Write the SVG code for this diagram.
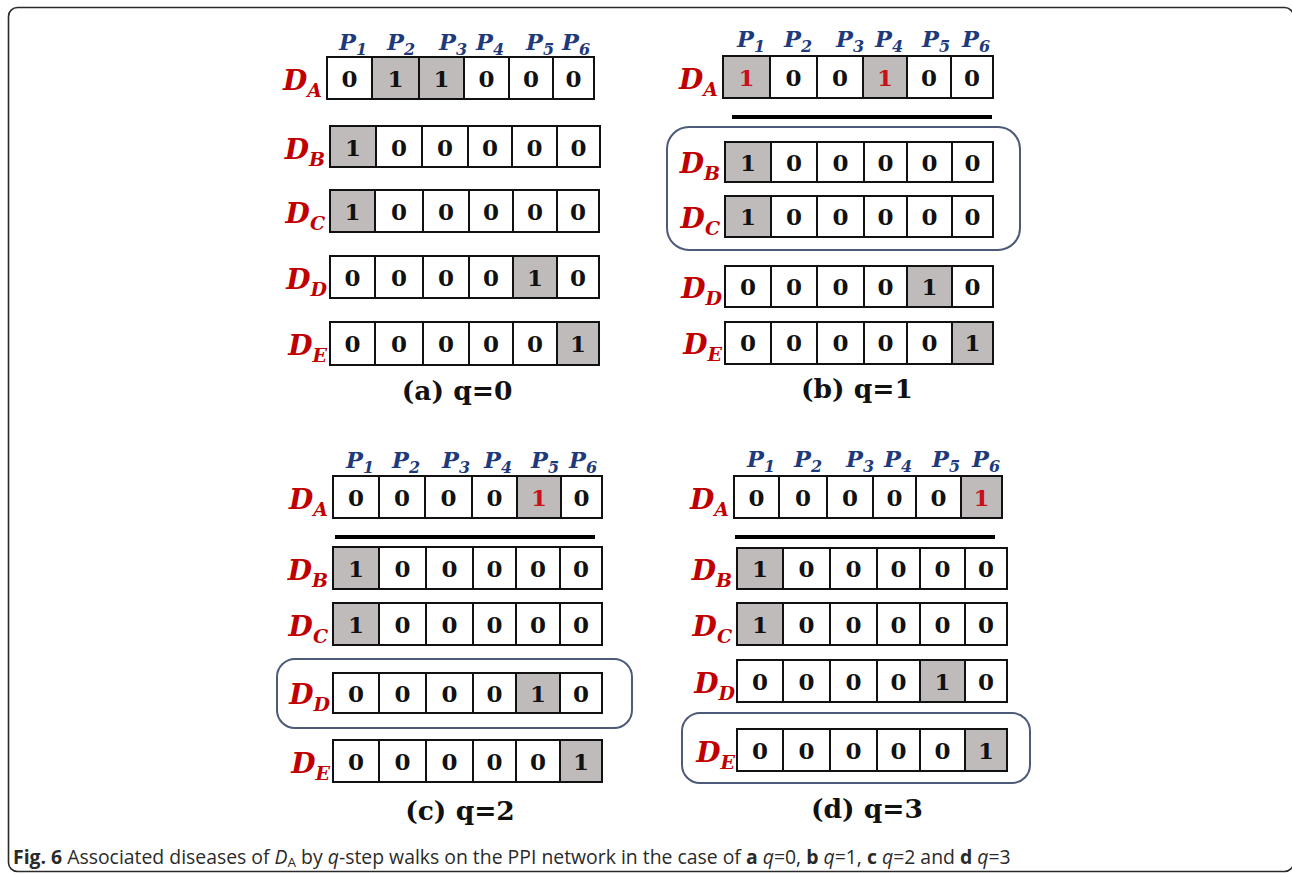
<svg xmlns="http://www.w3.org/2000/svg" width="1292" height="875" viewBox="0 0 1292 875">
<style>
.frame{fill:#fff;stroke:#2a2a2a;stroke-width:1.6}
.row{fill:none;stroke:#111;stroke-width:2}
.dv{stroke:#111;stroke-width:2}
.g{fill:#bfbbbb}
.v{font-family:"DejaVu Serif","Liberation Serif",serif;font-weight:bold;font-size:23px;fill:#111;text-anchor:middle}
.red{fill:#c8101a}
.d{font-family:"DejaVu Serif","Liberation Serif",serif;font-weight:bold;font-style:italic;font-size:28px;fill:#c00000;text-anchor:end}
.ds{font-size:19px}
.p{font-family:"DejaVu Serif","Liberation Serif",serif;font-weight:bold;font-style:italic;font-size:22.5px;fill:#1f3a7a}
.ps{font-size:16px}
.cap{font-family:"DejaVu Serif","Liberation Serif",serif;font-weight:bold;font-size:26.5px;fill:#111;text-anchor:middle}
.box{fill:none;stroke:#4d5b79;stroke-width:2}
.bar{stroke:#000;stroke-width:4}
.fig{font-family:"Open Sans","Noto Sans",sans-serif;font-size:19.4px;fill:#2a2a2a}
</style>
<rect class="frame" x="8.5" y="7.5" width="1285" height="864" rx="9"/>

<g id="connectors">
<line class="bar" x1="732" y1="117" x2="992" y2="117"/>
<line class="bar" x1="335" y1="537" x2="595" y2="537"/>
<line class="bar" x1="735" y1="537" x2="995" y2="537"/>
<rect class="box" x="667" y="127" width="353" height="123" rx="22"/>
<rect class="box" x="277" y="659" width="355" height="69" rx="18"/>
<rect class="box" x="682" y="713" width="348" height="70" rx="18"/>
</g>

<!-- Panel (a) -->
<g id="panel-a-header">
<text class="p" x="339" y="50">P<tspan class="ps" dy="5">1</tspan></text>
<text class="p" x="387" y="50">P<tspan class="ps" dy="5">2</tspan></text>
<text class="p" x="439" y="50">P<tspan class="ps" dy="5">3</tspan></text>
<text class="p" x="476" y="50">P<tspan class="ps" dy="5">4</tspan></text>
<text class="p" x="526" y="50">P<tspan class="ps" dy="5">5</tspan></text>
<text class="p" x="562" y="50">P<tspan class="ps" dy="5">6</tspan></text>
</g>
<g id="a-DA">
<rect class="g" x="372" y="57" width="47" height="42"/><rect class="g" x="419" y="57" width="45" height="42"/>
<rect class="row" x="327" y="57" width="267" height="42"/>
<path class="dv" d="M372 57V99M419 57V99M464 57V99M509 57V99M553 57V99"/>
<text class="d" x="322" y="90">D<tspan class="ds" dy="7">A</tspan></text>
<text class="v" y="86.5"><tspan x="349.5">0</tspan><tspan x="395.5">1</tspan><tspan x="441.5">1</tspan><tspan x="486.5">0</tspan><tspan x="531">0</tspan><tspan x="573.5">0</tspan></text>
</g>
<g id="a-DB">
<rect class="g" x="330" y="126" width="46" height="41"/>
<rect class="row" x="330" y="126" width="270" height="41"/>
<path class="dv" d="M376 126V167M422 126V167M468 126V167M512 126V167M557 126V167"/>
<text class="d" x="325" y="159">D<tspan class="ds" dy="7">B</tspan></text>
<text class="v" y="155.5"><tspan x="353">1</tspan><tspan x="399">0</tspan><tspan x="445">0</tspan><tspan x="490">0</tspan><tspan x="534.5">0</tspan><tspan x="578.5">0</tspan></text>
</g>
<g id="a-DC">
<rect class="g" x="330" y="190" width="45" height="42"/>
<rect class="row" x="330" y="190" width="269" height="42"/>
<path class="dv" d="M375 190V232M423 190V232M469 190V232M513 190V232M557 190V232"/>
<text class="d" x="325" y="223">D<tspan class="ds" dy="7">C</tspan></text>
<text class="v" y="219.5"><tspan x="352.5">1</tspan><tspan x="399">0</tspan><tspan x="446">0</tspan><tspan x="491">0</tspan><tspan x="535">0</tspan><tspan x="578">0</tspan></text>
</g>
<g id="a-DD">
<rect class="g" x="513" y="256" width="44" height="42"/>
<rect class="row" x="330" y="256" width="269" height="42"/>
<path class="dv" d="M375 256V298M423 256V298M469 256V298M513 256V298M557 256V298"/>
<text class="d" x="327" y="289">D<tspan class="ds" dy="7">D</tspan></text>
<text class="v" y="285.5"><tspan x="352.5">0</tspan><tspan x="399">0</tspan><tspan x="446">0</tspan><tspan x="491">0</tspan><tspan x="535">1</tspan><tspan x="578">0</tspan></text>
</g>
<g id="a-DE">
<rect class="g" x="557" y="322" width="42" height="43"/>
<rect class="row" x="330" y="322" width="269" height="43"/>
<path class="dv" d="M375 322V365M423 322V365M469 322V365M513 322V365M557 322V365"/>
<text class="d" x="327" y="355">D<tspan class="ds" dy="7">E</tspan></text>
<text class="v" y="352"><tspan x="352.5">0</tspan><tspan x="399">0</tspan><tspan x="446">0</tspan><tspan x="491">0</tspan><tspan x="535">0</tspan><tspan x="578">1</tspan></text>
</g>
<text id="cap-a" class="cap" x="457" y="400">(a) q=0</text>

<!-- Panel (b) -->
<g id="panel-b-header">
<text class="p" x="737" y="47">P<tspan class="ps" dy="5">1</tspan></text>
<text class="p" x="784" y="47">P<tspan class="ps" dy="5">2</tspan></text>
<text class="p" x="836" y="47">P<tspan class="ps" dy="5">3</tspan></text>
<text class="p" x="875" y="47">P<tspan class="ps" dy="5">4</tspan></text>
<text class="p" x="922" y="47">P<tspan class="ps" dy="5">5</tspan></text>
<text class="p" x="962" y="47">P<tspan class="ps" dy="5">6</tspan></text>
</g>
<g id="b-DA">
<rect class="g" x="723" y="56" width="47" height="42"/><rect class="g" x="863" y="56" width="44" height="43"/>
<rect class="row" x="723" y="56" width="270" height="42"/>
<path class="dv" d="M770 56V98M817 56V98M863 56V98M907 56V98M951 56V98"/>
<text class="d" x="718" y="89">D<tspan class="ds" dy="7">A</tspan></text>
<text class="v" y="85.5"><tspan class="red" x="746.5">1</tspan><tspan x="793.5">0</tspan><tspan x="840">0</tspan><tspan class="red" x="885">1</tspan><tspan x="929">0</tspan><tspan x="972">0</tspan></text>
</g>
<g id="b-DB">
<rect class="g" x="725" y="142" width="46" height="40"/>
<rect class="row" x="725" y="142" width="268" height="40"/>
<path class="dv" d="M771 142V182M817 142V182M864 142V182M907 142V182M952 142V182"/>
<text class="d" x="720" y="173">D<tspan class="ds" dy="7">B</tspan></text>
<text class="v" y="170.5"><tspan x="748">1</tspan><tspan x="794">0</tspan><tspan x="840.5">0</tspan><tspan x="885.5">0</tspan><tspan x="929.5">0</tspan><tspan x="972.5">0</tspan></text>
</g>
<g id="b-DC">
<rect class="g" x="725" y="196" width="46" height="41"/>
<rect class="row" x="725" y="196" width="268" height="41"/>
<path class="dv" d="M771 196V237M817 196V237M864 196V237M907 196V237M952 196V237"/>
<text class="d" x="720" y="228">D<tspan class="ds" dy="7">C</tspan></text>
<text class="v" y="225"><tspan x="748">1</tspan><tspan x="794">0</tspan><tspan x="840.5">0</tspan><tspan x="885.5">0</tspan><tspan x="929.5">0</tspan><tspan x="972.5">0</tspan></text>
</g>
<g id="b-DD">
<rect class="g" x="907" y="266" width="45" height="41"/>
<rect class="row" x="725" y="266" width="268" height="41"/>
<path class="dv" d="M771 266V307M817 266V307M864 266V307M907 266V307M952 266V307"/>
<text class="d" x="722" y="298">D<tspan class="ds" dy="7">D</tspan></text>
<text class="v" y="295"><tspan x="748">0</tspan><tspan x="794">0</tspan><tspan x="840.5">0</tspan><tspan x="885.5">0</tspan><tspan x="929.5">1</tspan><tspan x="972.5">0</tspan></text>
</g>
<g id="b-DE">
<rect class="g" x="952" y="322" width="41" height="42"/>
<rect class="row" x="725" y="322" width="268" height="42"/>
<path class="dv" d="M771 322V364M817 322V364M864 322V364M907 322V364M952 322V364"/>
<text class="d" x="722" y="354">D<tspan class="ds" dy="7">E</tspan></text>
<text class="v" y="351"><tspan x="748">0</tspan><tspan x="794">0</tspan><tspan x="840.5">0</tspan><tspan x="885.5">0</tspan><tspan x="929.5">0</tspan><tspan x="972.5">1</tspan></text>
</g>
<text id="cap-b" class="cap" x="857" y="398">(b) q=1</text>

<!-- Panel (c) -->
<g id="panel-c-header">
<text class="p" x="346" y="468">P<tspan class="ps" dy="5">1</tspan></text>
<text class="p" x="392" y="468">P<tspan class="ps" dy="5">2</tspan></text>
<text class="p" x="442" y="468">P<tspan class="ps" dy="5">3</tspan></text>
<text class="p" x="484" y="468">P<tspan class="ps" dy="5">4</tspan></text>
<text class="p" x="531" y="468">P<tspan class="ps" dy="5">5</tspan></text>
<text class="p" x="569" y="468">P<tspan class="ps" dy="5">6</tspan></text>
</g>
<g id="c-DA">
<rect class="g" x="517" y="476" width="44" height="42"/>
<rect class="row" x="333" y="476" width="269" height="42"/>
<path class="dv" d="M379 476V518M425 476V518M472 476V518M517 476V518M561 476V518"/>
<text class="d" x="328" y="509">D<tspan class="ds" dy="7">A</tspan></text>
<text class="v" y="505.5"><tspan x="356">0</tspan><tspan x="402">0</tspan><tspan x="448.5">0</tspan><tspan x="494.5">0</tspan><tspan class="red" x="539">1</tspan><tspan x="581.5">0</tspan></text>
</g>
<g id="c-DB">
<rect class="g" x="333" y="547" width="46" height="42"/>
<rect class="row" x="333" y="547" width="269" height="42"/>
<path class="dv" d="M379 547V589M426 547V589M473 547V589M516 547V589M560 547V589"/>
<text class="d" x="328" y="580">D<tspan class="ds" dy="7">B</tspan></text>
<text class="v" y="576.5"><tspan x="356">1</tspan><tspan x="402.5">0</tspan><tspan x="449.5">0</tspan><tspan x="494.5">0</tspan><tspan x="538">0</tspan><tspan x="581">0</tspan></text>
</g>
<g id="c-DC">
<rect class="g" x="333" y="603" width="46" height="42"/>
<rect class="row" x="333" y="603" width="269" height="42"/>
<path class="dv" d="M379 603V645M426 603V645M473 603V645M516 603V645M560 603V645"/>
<text class="d" x="328" y="636">D<tspan class="ds" dy="7">C</tspan></text>
<text class="v" y="632.5"><tspan x="356">1</tspan><tspan x="402.5">0</tspan><tspan x="449.5">0</tspan><tspan x="494.5">0</tspan><tspan x="538">0</tspan><tspan x="581">0</tspan></text>
</g>
<g id="c-DD">
<rect class="g" x="516" y="673" width="44" height="40"/>
<rect class="row" x="333" y="673" width="269" height="40"/>
<path class="dv" d="M379 673V713M426 673V713M473 673V713M516 673V713M560 673V713"/>
<text class="d" x="330" y="704">D<tspan class="ds" dy="7">D</tspan></text>
<text class="v" y="701.5"><tspan x="356">0</tspan><tspan x="402.5">0</tspan><tspan x="449.5">0</tspan><tspan x="494.5">0</tspan><tspan x="538">1</tspan><tspan x="581">0</tspan></text>
</g>
<g id="c-DE">
<rect class="g" x="560" y="740" width="42" height="42"/>
<rect class="row" x="333" y="740" width="269" height="42"/>
<path class="dv" d="M379 740V782M426 740V782M473 740V782M516 740V782M560 740V782"/>
<text class="d" x="330" y="773">D<tspan class="ds" dy="7">E</tspan></text>
<text class="v" y="769.5"><tspan x="356">0</tspan><tspan x="402.5">0</tspan><tspan x="449.5">0</tspan><tspan x="494.5">0</tspan><tspan x="538">0</tspan><tspan x="581">1</tspan></text>
</g>
<text id="cap-c" class="cap" x="460" y="820">(c) q=2</text>

<!-- Panel (d) -->
<g id="panel-d-header">
<text class="p" x="747" y="467">P<tspan class="ps" dy="5">1</tspan></text>
<text class="p" x="794" y="467">P<tspan class="ps" dy="5">2</tspan></text>
<text class="p" x="846" y="467">P<tspan class="ps" dy="5">3</tspan></text>
<text class="p" x="884" y="467">P<tspan class="ps" dy="5">4</tspan></text>
<text class="p" x="932" y="467">P<tspan class="ps" dy="5">5</tspan></text>
<text class="p" x="972" y="467">P<tspan class="ps" dy="5">6</tspan></text>
</g>
<g id="d-DA">
<rect class="g" x="961" y="476" width="41" height="42"/>
<rect class="row" x="734" y="476" width="268" height="42"/>
<path class="dv" d="M779 476V518M827 476V518M873 476V518M916 476V518M961 476V518"/>
<text class="d" x="729" y="509">D<tspan class="ds" dy="7">A</tspan></text>
<text class="v" y="505.5"><tspan x="756.5">0</tspan><tspan x="803">0</tspan><tspan x="850">0</tspan><tspan x="894.5">0</tspan><tspan x="938.5">0</tspan><tspan class="red" x="981.5">1</tspan></text>
</g>
<g id="d-DB">
<rect class="g" x="737" y="548" width="46" height="41"/>
<rect class="row" x="737" y="548" width="270" height="41"/>
<path class="dv" d="M783 548V589M830 548V589M877 548V589M920 548V589M965 548V589"/>
<text class="d" x="732" y="580">D<tspan class="ds" dy="7">B</tspan></text>
<text class="v" y="576.5"><tspan x="760">1</tspan><tspan x="806.5">0</tspan><tspan x="853.5">0</tspan><tspan x="898.5">0</tspan><tspan x="942.5">0</tspan><tspan x="986">0</tspan></text>
</g>
<g id="d-DC">
<rect class="g" x="737" y="603" width="46" height="42"/>
<rect class="row" x="737" y="603" width="270" height="42"/>
<path class="dv" d="M783 603V645M830 603V645M877 603V645M920 603V645M965 603V645"/>
<text class="d" x="732" y="636">D<tspan class="ds" dy="7">C</tspan></text>
<text class="v" y="632.5"><tspan x="760">1</tspan><tspan x="806.5">0</tspan><tspan x="853.5">0</tspan><tspan x="898.5">0</tspan><tspan x="942.5">0</tspan><tspan x="986">0</tspan></text>
</g>
<g id="d-DD">
<rect class="g" x="920" y="660" width="45" height="42"/>
<rect class="row" x="737" y="660" width="270" height="42"/>
<path class="dv" d="M783 660V702M830 660V702M877 660V702M920 660V702M965 660V702"/>
<text class="d" x="735" y="693">D<tspan class="ds" dy="7">D</tspan></text>
<text class="v" y="689.5"><tspan x="760">0</tspan><tspan x="806.5">0</tspan><tspan x="853.5">0</tspan><tspan x="898.5">0</tspan><tspan x="942.5">1</tspan><tspan x="986">0</tspan></text>
</g>
<g id="d-DE">
<rect class="g" x="965" y="729" width="42" height="42"/>
<rect class="row" x="737" y="729" width="270" height="42"/>
<path class="dv" d="M783 729V771M830 729V771M877 729V771M920 729V771M965 729V771"/>
<text class="d" x="735" y="762">D<tspan class="ds" dy="7">E</tspan></text>
<text class="v" y="758.5"><tspan x="760">0</tspan><tspan x="806.5">0</tspan><tspan x="853.5">0</tspan><tspan x="898.5">0</tspan><tspan x="942.5">0</tspan><tspan x="986">1</tspan></text>
</g>
<text id="cap-d" class="cap" x="867" y="818">(d) q=3</text>

<text id="figure-caption" class="fig" x="13" y="864"><tspan font-weight="bold">Fig. 6</tspan> Associated diseases of <tspan font-style="italic">D</tspan><tspan font-size="13.5" dy="3">A</tspan><tspan dy="-3"> by </tspan><tspan font-style="italic">q</tspan>-step walks on the PPI network in the case of <tspan font-weight="bold">a</tspan> <tspan font-style="italic">q</tspan>=0, <tspan font-weight="bold">b</tspan> <tspan font-style="italic">q</tspan>=1, <tspan font-weight="bold">c</tspan> <tspan font-style="italic">q</tspan>=2 and <tspan font-weight="bold">d</tspan> <tspan font-style="italic">q</tspan>=3</text>
</svg>
